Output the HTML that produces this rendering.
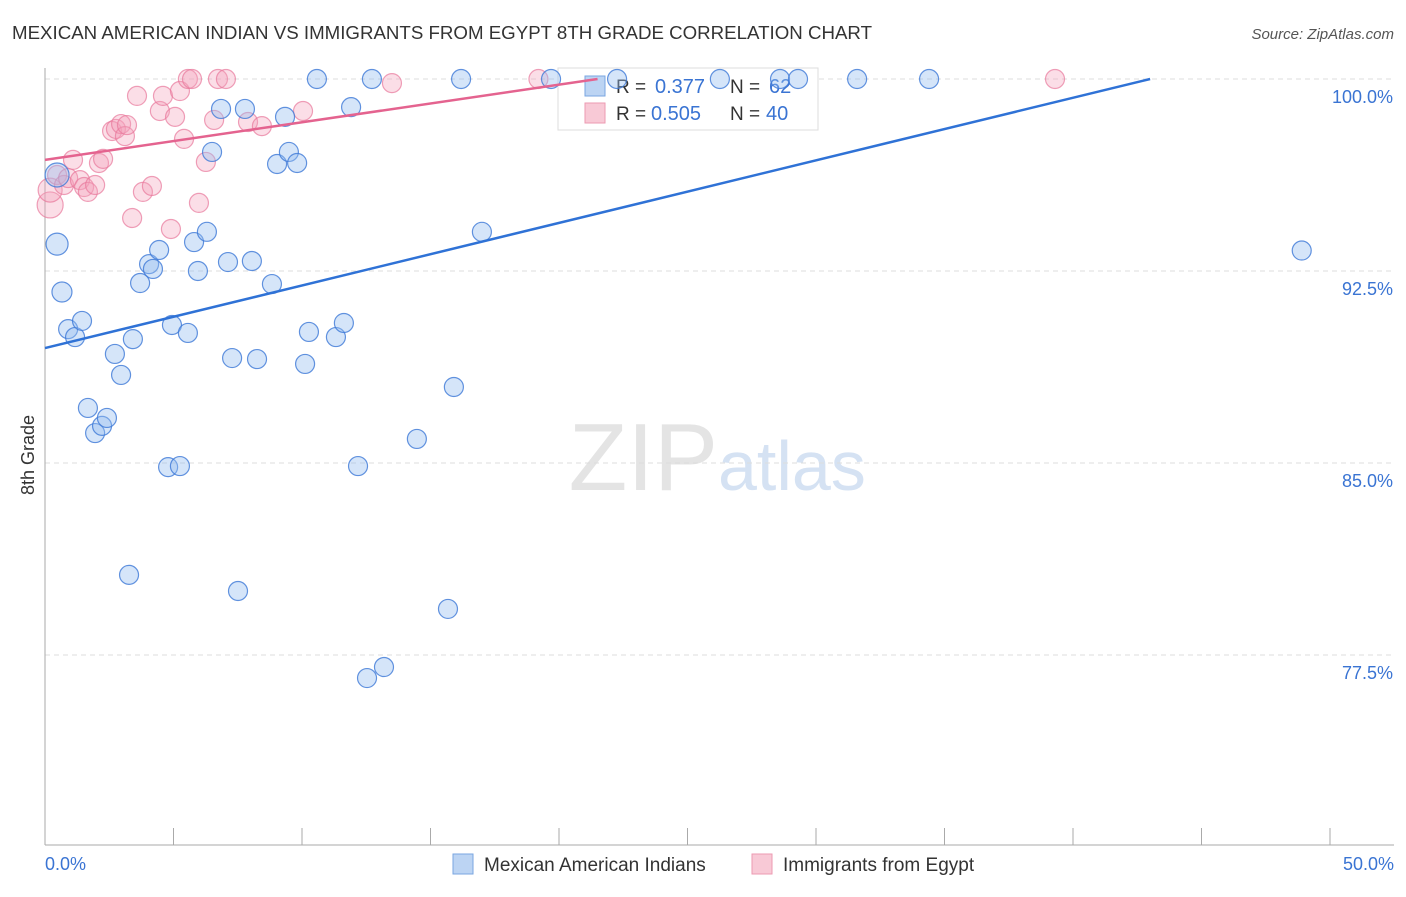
<!DOCTYPE html>
<html><head><meta charset="utf-8"><style>
body{margin:0;background:#fff;font-family:"Liberation Sans",sans-serif;}
svg text{font-family:"Liberation Sans",sans-serif;}
</style></head><body>
<svg id="c" width="1406" height="892" xmlns="http://www.w3.org/2000/svg">
<text x="12" y="39" font-size="18" fill="#333" textLength="860" lengthAdjust="spacingAndGlyphs">MEXICAN AMERICAN INDIAN VS IMMIGRANTS FROM EGYPT 8TH GRADE CORRELATION CHART</text>
<text x="1394" y="39" font-size="15" fill="#555" text-anchor="end" font-style="italic">Source: ZipAtlas.com</text>
<text x="718" y="490" font-size="96" fill="#e4e4e4" text-anchor="end" font-family="Liberation Serif">ZIP</text>
<text x="718" y="490" font-size="70" fill="#d5e2f3">atlas</text>
<g id="grid"></g><g id="axes"></g>
<g>
<rect x="558" y="68" width="260" height="62" fill="#fff" stroke="#ddd"/>
<rect x="585" y="76" width="20" height="20" fill="#bcd4f3" stroke="#7aa6e0"/>
<rect x="585" y="103" width="20" height="20" fill="#f8c9d6" stroke="#ec9ab2"/>
<text x="616" y="93" font-size="19" fill="#333">R =</text>
<text x="655" y="93" font-size="20" fill="#3a74d3">0.377</text>
<text x="730" y="93" font-size="19" fill="#333">N =</text>
<text x="769" y="93" font-size="20" fill="#3a74d3">62</text>
<text x="616" y="120" font-size="19" fill="#333">R =</text>
<text x="651" y="120" font-size="20" fill="#3a74d3">0.505</text>
<text x="730" y="120" font-size="19" fill="#333">N =</text>
<text x="766" y="120" font-size="20" fill="#3a74d3">40</text>
</g>
<g id="pts"></g><g id="lines"></g>
<text x="34" y="455" font-size="18" fill="#333" text-anchor="middle" transform="rotate(-90 34 455)">8th Grade</text>
<g>
<rect x="453" y="854" width="20" height="20" fill="#bcd4f3" stroke="#7aa6e0"/>
<text x="484" y="871" font-size="19" fill="#333">Mexican American Indians</text>
<rect x="752" y="854" width="20" height="20" fill="#f8c9d6" stroke="#ec9ab2"/>
<text x="783" y="871" font-size="19" fill="#333">Immigrants from Egypt</text>
</g>
</svg>
<script>
const yTicks=[100,92.5,85,77.5];
const xTickVals=[0,5,10,15,20,25,30,35,40,45,50];
const blueX=[0.47,0.66,0.9,1.17,1.44,1.67,1.95,2.22,2.41,2.72,2.96,3.27,3.42,3.7,4.05,4.2,4.44,4.79,4.94,5.25,5.56,5.8,5.95,6.3,6.5,6.85,7.12,7.28,7.51,7.78,8.05,8.25,8.83,9.03,9.34,9.49,9.81,10.12,10.27,10.58,11.32,11.63,11.91,12.18,12.53,12.72,13.19,14.47,15.68,15.91,16.19,17.0,19.69,22.26,26.26,28.6,29.3,31.6,34.4,48.9,0.47];
const blueY=[93.55,91.68,90.23,89.92,90.55,87.15,86.17,86.45,86.76,89.26,88.44,80.63,89.84,92.03,92.77,92.58,93.32,84.84,90.39,84.88,90.08,93.63,92.5,94.03,97.15,98.83,92.85,89.1,80.0,98.83,92.89,89.06,91.99,96.68,98.52,97.15,96.72,88.87,90.12,100,89.92,90.47,98.9,84.88,76.6,100,77.03,85.94,79.3,87.97,100,94.03,100,100,100,100,100,100,100,93.3,96.25];
const blueR=[11,10,9.5,9.5,9.5,9.5,9.5,9.5,9.5,9.5,9.5,9.5,9.5,9.5,9.5,9.5,9.5,9.5,9.5,9.5,9.5,9.5,9.5,9.5,9.5,9.5,9.5,9.5,9.5,9.5,9.5,9.5,9.5,9.5,9.5,9.5,9.5,9.5,9.5,9.5,9.5,9.5,9.5,9.5,9.5,9.5,9.5,9.5,9.5,9.5,9.5,9.5,9.5,9.5,9.5,9.5,9.5,9.5,9.5,9.5,12];
const pinkX=[0.2,0.2,0.47,0.74,0.9,1.09,1.36,1.52,1.67,1.95,2.1,2.26,2.61,2.76,2.96,3.11,3.19,3.39,3.58,3.81,4.16,4.47,4.59,4.9,5.06,5.25,5.41,5.56,5.72,5.99,6.26,6.58,6.73,7.04,7.9,8.44,10.04,13.5,19.2,39.3];
const pinkY=[95.08,95.66,96.25,95.86,96.13,96.84,96.05,95.78,95.59,95.86,96.72,96.88,97.97,98.05,98.24,97.77,98.2,94.57,99.34,95.59,95.82,98.75,99.34,94.14,98.52,99.53,97.66,100,100,95.16,96.76,98.4,100,100,98.32,98.16,98.75,99.84,100,100];
const pinkR=[13,12,9.5,9.5,9.5,9.5,9.5,9.5,9.5,9.5,9.5,9.5,9.5,9.5,9.5,9.5,9.5,9.5,9.5,9.5,9.5,9.5,9.5,9.5,9.5,9.5,9.5,9.5,9.5,9.5,9.5,9.5,9.5,9.5,9.5,9.5,9.5,9.5,9.5,9.5];
const blueLine=[[0,89.49],[43.0,100]];
const pinkLine=[[0,96.84],[21.5,100]];
const NS="http://www.w3.org/2000/svg";
const X=v=>45+v*25.7, Y=v=>79+(100-v)*25.6;
function mk(tag,attrs,parent){const e=document.createElementNS(NS,tag);for(const k in attrs)e.setAttribute(k,attrs[k]);document.getElementById(parent).appendChild(e);return e;}
yTicks.forEach(t=>{
 const l=mk('line',{x1:45,x2:1394,y1:Y(t),y2:Y(t),stroke:'#ddd','stroke-dasharray':'5,4'},'grid');
 
 
 const tx=mk('text',{x:1393,y:Y(t)+24,'font-size':18,fill:'#3a74d3','text-anchor':'end'},'grid');
 tx.textContent=t.toFixed(1)+'%';
 
 
});
mk('line',{x1:45,x2:45,y1:68,y2:845,stroke:'#aaa'},'axes');
mk('line',{x1:45,x2:1394,y1:845,y2:845,stroke:'#aaa'},'axes');
xTickVals.forEach(t=>{const l=mk('line',{x1:X(t),x2:X(t),y1:828,y2:845,stroke:'#aaa'},'axes');
 
 });
const x0=mk('text',{x:45,y:870,'font-size':18,fill:'#3a74d3'},'axes');x0.textContent='0.0%';


const x1=mk('text',{x:1394,y:870,'font-size':18,fill:'#3a74d3','text-anchor':'end'},'axes');x1.textContent='50.0%';


pinkX.forEach((v,i)=>{const c=mk('circle',{cx:X(v),cy:Y(pinkY[i]),r:pinkR[i],fill:'rgba(244,160,185,0.35)',stroke:'rgba(232,120,155,0.7)','stroke-width':1.2},'pts');
 
 });
blueX.forEach((v,i)=>{const c=mk('circle',{cx:X(v),cy:Y(blueY[i]),r:blueR[i],fill:'rgba(150,190,240,0.4)',stroke:'rgba(60,120,215,0.8)','stroke-width':1.2},'pts');
 
 });
const bl=mk('line',{x1:X(blueLine[0][0]),y1:Y(blueLine[0][1]),x2:X(blueLine[1][0]),y2:Y(blueLine[1][1]),stroke:'#2f72d6','stroke-width':2.5},'lines');


const pl=mk('line',{x1:X(pinkLine[0][0]),y1:Y(pinkLine[0][1]),x2:X(pinkLine[1][0]),y2:Y(pinkLine[1][1]),stroke:'#e4638f','stroke-width':2.5},'lines');


</script>
</body></html>
